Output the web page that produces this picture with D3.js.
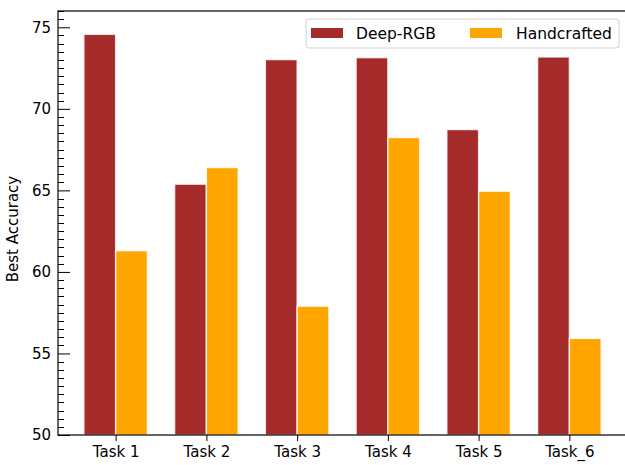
<!DOCTYPE html>
<html>
<head>
<meta charset="utf-8">
<script src="https://cdn.jsdelivr.net/npm/d3@7"></script>
<style>
  body { margin: 0; background: #fff; }
  text { font-family: "DejaVu Sans", sans-serif; fill: #000; }
</style>
</head>
<body>
<div id="chart"></div>
<script>
// data
var tasks = ["Task 1", "Task 2", "Task 3", "Task 4", "Task 5", "Task_6"];
var deepRGB = [74.57, 65.38, 73.02, 73.14, 68.73, 73.18];
var handcrafted = [61.3, 66.4, 57.9, 68.24, 64.95, 55.92];
var yTicks = [50, 55, 60, 65, 70, 75];
var seriesNames = ["Deep-RGB", "Handcrafted"];
var seriesColors = ["#a52a2a", "#ffa500"];

var W = 625, H = 465;
var margin = {top: 11, right: -2, bottom: 30, left: 58};
var width = W - margin.left - margin.right,
    height = H - margin.top - margin.bottom;
var barW = 0.35;

var svg = d3.select("#chart").append("svg")
    .attr("width", W).attr("height", H);

var g = svg.append("g")
    .attr("transform", "translate(" + margin.left + "," + margin.top + ")");

// x as linear index like matplotlib
var x = d3.scaleLinear().domain([-0.635, tasks.length - 1 + 0.635]).range([0, width]);
var y = d3.scaleLinear().domain([50, 76]).range([height, 0]);

var rows = tasks.map(function(t, i) { return {task: t, i: i, vals: [deepRGB[i], handcrafted[i]]}; });

// bars
g.selectAll("g.task").data(rows).enter().append("g")
  .selectAll("rect").data(function(d) {
      return d.vals.map(function(v, k) { return {i: d.i, k: k, v: v}; });
  }).enter().append("rect")
    .attr("x", function(d) { return x(d.i + (d.k - 1) * barW); })
    .attr("y", function(d) { return y(d.v); })
    .attr("width", function(d) { return x(barW) - x(0); })
    .attr("height", function(d) { return height - y(d.v); })
    .attr("fill", function(d) { return seriesColors[d.k]; })
    .attr("stroke", "#fff")
    .attr("stroke-opacity", 0.8)
    .attr("stroke-width", 1.4);

// y axis: inward ticks, major + minor
var yAxis = g.append("g")
  .call(d3.axisLeft(y).tickValues(yTicks).tickSize(-12).tickPadding(6).tickFormat(d3.format("d")));
yAxis.selectAll("text").style("font-size", "15px").attr("x", -7);
yAxis.select(".domain").remove();

var minor = d3.range(50, 76.01, 0.5).filter(function(v) { return v % 5 !== 0; });
g.append("g").selectAll("line").data(minor).enter().append("line")
  .attr("x1", 0).attr("x2", 6)
  .attr("y1", function(d) { return Math.round(y(d)) + 0.5; })
  .attr("y2", function(d) { return Math.round(y(d)) + 0.5; })
  .attr("stroke", "#000").attr("stroke-width", 1);

// x axis
var xAxis = g.append("g")
  .attr("transform", "translate(0," + height + ")")
  .call(d3.axisBottom(x).tickValues(d3.range(tasks.length)).tickSize(6).tickPadding(5)
        .tickFormat(function(i) { return tasks[i]; }));
xAxis.selectAll("text").style("font-size", "15px");
xAxis.select(".domain").remove();

// frame
g.append("rect")
  .attr("x", 0).attr("y", 0).attr("width", width).attr("height", height)
  .attr("fill", "none").attr("stroke", "#000").attr("stroke-width", 1.2);

// y label
svg.append("text")
  .attr("transform", "translate(18," + (margin.top + height / 2 + 6) + ") rotate(-90)")
  .attr("text-anchor", "middle")
  .style("font-size", "15px")
  .text("Best Accuracy");

// legend
var lg = svg.append("g").attr("transform", "translate(306,19)");
lg.append("rect")
  .attr("x", 0).attr("y", 0).attr("width", 313).attr("height", 29).attr("rx", 3)
  .attr("fill", "#fff").attr("stroke", "#d0d0d0").attr("stroke-width", 1);
var items = lg.selectAll("g.item").data(seriesNames).enter().append("g")
  .attr("transform", function(d, i) { return "translate(" + (5 + i * 159) + ",0)"; });
items.append("rect")
  .attr("x", 0).attr("y", 9).attr("width", 32).attr("height", 10)
  .attr("fill", function(d, i) { return seriesColors[i]; });
items.append("text")
  .attr("x", function(d, i) { return i === 0 ? 45 : 46; }).attr("y", 20)
  .style("font-size", "15.5px")
  .text(function(d) { return d; });
</script>
</body>
</html>
